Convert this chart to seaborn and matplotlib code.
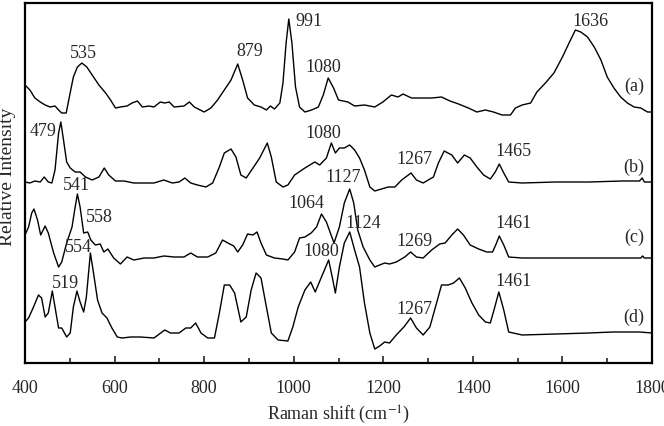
import numpy as np
import pandas as pd
import matplotlib
matplotlib.use('Agg')
import matplotlib.pyplot as plt
import seaborn as sns
from matplotlib.ticker import MultipleLocator

sns.set_style('ticks')
plt.rcParams['font.family'] = ['Liberation Serif', 'DejaVu Serif']
plt.rcParams['mathtext.fontset'] = 'stix'

# spectrum (a)
shift_a = [400, 411, 422, 434, 445, 456, 467, 475, 482, 492, 499, 508, 517, 527, 538, 550, 565, 580, 591, 602,
           613, 628, 639, 651, 662, 677, 688, 702, 712, 722, 733, 755, 767, 778, 800, 815, 830, 845, 860, 875,
           886, 897, 912, 927, 939, 948, 957, 969, 976, 983, 989, 996, 1004, 1013, 1025, 1040, 1055, 1066, 1077, 1089,
           1100, 1121, 1136, 1158, 1181, 1199, 1218, 1233, 1244, 1263, 1285, 1308, 1330, 1349, 1368, 1390, 1409, 1428, 1446, 1465,
           1484, 1495, 1510, 1529, 1543, 1562, 1581, 1600, 1618, 1629, 1641, 1656, 1671, 1686, 1700, 1715, 1730, 1745, 1760, 1775,
           1790, 1800]
int_a = [28, 23, 15, 11, 8, 6, 7, 3, 0, 0, 16, 36, 46, 50, 46, 38, 28, 20, 13, 5,
         6, 7, 10, 12, 6, 7, 6, 11, 10, 11, 6, 7, 11, 6, 1, 5, 13, 23, 33, 49,
         33, 15, 8, 6, 3, 7, 4, 10, 30, 70, 94, 70, 26, 6, 1, 3, 6, 18, 35, 25,
         13, 11, 7, 8, 6, 11, 18, 16, 19, 15, 15, 15, 16, 12, 9, 5, 1, 3, 1, -2,
         -2, 5, 8, 10, 21, 30, 40, 56, 73, 83, 81, 76, 66, 53, 36, 25, 16, 10, 6, 5,
         1, 1]

# spectrum (b)
shift_b = [400, 411, 422, 434, 443, 452, 460, 467, 475, 480, 486, 493, 501, 512, 523, 535, 550, 565, 577, 587,
           602, 621, 643, 666, 688, 710, 729, 744, 757, 770, 785, 804, 819, 834, 845, 860, 871, 882, 894, 909,
           924, 941, 950, 961, 976, 987, 1002, 1025, 1047, 1058, 1073, 1084, 1093, 1102, 1113, 1125, 1136, 1147, 1158, 1170,
           1181, 1196, 1211, 1226, 1241, 1262, 1274, 1289, 1312, 1323, 1336, 1353, 1366, 1381, 1394, 1409, 1424, 1439, 1450, 1459,
           1469, 1480, 1510, 1585, 1659, 1734, 1772, 1778, 1783, 1800]
int_b = [3, 2, 4, 3, 8, 3, 2, 15, 52, 63, 45, 23, 17, 13, 13, 8, 5, 8, 17, 10,
         4, 4, 2, 2, 2, 5, 2, 3, 7, 2, 0, -2, 2, 18, 32, 36, 28, 10, 7, 17,
         27, 42, 28, 3, -2, 0, 10, 17, 23, 20, 27, 42, 32, 37, 37, 40, 35, 27, 15, -2,
         -6, -4, -2, -2, 5, 12, 5, 2, 8, 22, 34, 30, 22, 30, 27, 18, 10, 6, 13, 21,
         12, 3, 2, 3, 3, 4, 4, 7, 3, 3]

# spectrum (c)
shift_c = [400, 408, 415, 420, 428, 435, 445, 452, 464, 475, 482, 493, 505, 512, 517, 523, 531, 540, 547, 557,
           568, 576, 585, 598, 613, 628, 643, 666, 688, 710, 733, 755, 770, 785, 808, 826, 841, 853, 866, 875,
           886, 897, 909, 918, 927, 939, 957, 976, 987, 1002, 1013, 1025, 1039, 1051, 1062, 1073, 1081, 1090, 1102, 1113,
           1125, 1134, 1143, 1155, 1170, 1181, 1192, 1203, 1214, 1229, 1248, 1261, 1274, 1289, 1308, 1326, 1338, 1353, 1366, 1379,
           1394, 1413, 1431, 1444, 1451, 1459, 1469, 1480, 1510, 1585, 1659, 1734, 1775, 1779, 1783, 1800]
int_c = [25, 33, 47, 51, 40, 25, 34, 27, 7, -7, -2, 17, 33, 53, 66, 53, 27, 28, 20, 15,
         16, 8, 11, 2, -4, 3, 0, 2, 2, 4, 3, 3, 7, 3, 3, 7, 20, 17, 14, 8,
         15, 26, 25, 28, 17, 5, 2, 1, 0, 8, 22, 23, 27, 33, 46, 38, 28, 17, 33, 57,
         71, 57, 30, 13, 0, -7, -5, -3, -4, -2, 3, 8, 3, 2, 10, 16, 17, 25, 31, 25,
         15, 11, 8, 8, 15, 24, 15, 3, 2, 2, 2, 2, 2, 4, 2, 2]

# spectrum (d)
shift_d = [400, 408, 419, 430, 437, 445, 452, 461, 467, 475, 482, 493, 501, 508, 516, 523, 531, 537, 546, 553,
           562, 572, 583, 594, 606, 617, 636, 658, 688, 703, 712, 725, 744, 759, 770, 781, 793, 808, 823, 834,
           845, 857, 868, 882, 894, 905, 916, 927, 939, 950, 965, 987, 998, 1010, 1025, 1038, 1048, 1062, 1078, 1086,
           1093, 1102, 1113, 1125, 1136, 1147, 1158, 1170, 1181, 1192, 1203, 1214, 1229, 1246, 1261, 1274, 1289, 1304, 1319, 1330,
           1345, 1357, 1370, 1383, 1398, 1413, 1428, 1439, 1449, 1458, 1469, 1480, 1510, 1585, 1659, 1712, 1772, 1800]
int_d = [19, 23, 34, 46, 43, 24, 28, 50, 34, 13, 13, 4, 8, 34, 50, 39, 29, 44, 88, 68,
         41, 28, 23, 13, 4, 3, 4, 4, 3, 8, 11, 8, 8, 13, 13, 18, 8, 3, 3, 28,
         56, 56, 48, 19, 24, 51, 68, 63, 34, 8, 1, 0, 14, 34, 51, 59, 49, 64, 81, 64,
         48, 74, 98, 109, 91, 74, 38, 8, -8, -5, -1, -2, 6, 14, 23, 13, 6, 14, 38, 56,
         56, 58, 63, 53, 38, 26, 19, 18, 34, 49, 31, 9, 6, 7, 8, 9, 9, 8]

names = ['(a)', '(b)', '(c)', '(d)']
shifts = [shift_a, shift_b, shift_c, shift_d]
intensities = [int_a, int_b, int_c, int_d]
offsets = [250, 178, 103, 22]

# peak labels: (text, x, y) in stacked coordinates
peak_labels = [
    ('535', 531, 310), ('879', 901, 312), ('991', 1034, 341), ('1080', 1066, 296), ('1636', 1663, 341),
    ('479', 441, 231), ('1080', 1066, 230), ('1267', 1270, 203), ('1465', 1491, 212),
    ('541', 514, 178), ('558', 567, 145), ('1064', 1028, 160), ('1127', 1110, 186), ('1269', 1269, 121), ('1461', 1491, 140),
    ('554', 520, 115), ('519', 490, 80), ('1080', 1062, 111), ('1124', 1155, 140), ('1267', 1269, 54), ('1461', 1491, 81),
]
trace_labels_y = [277, 196, 126, 46]

fig = plt.figure(figsize=(6.64, 4.26), dpi=100)
ax = fig.add_axes([25 / 664, 63 / 426, 627 / 664, 360 / 426])

for name, x, y, off in zip(names, shifts, intensities, offsets):
    df = pd.DataFrame({'shift': x, 'intensity': np.array(y) + off})
    sns.lineplot(data=df, x='shift', y='intensity', ax=ax, color='black',
                 linewidth=1.0, estimator=None, sort=False)

for txt, x, y in peak_labels:
    ax.text(x, y, txt, ha='center', va='center', fontsize=13)
for name, y in zip(names, trace_labels_y):
    ax.text(1760, y, name, ha='center', va='center', fontsize=13)

ax.set_xlim(400, 1800)
ax.set_ylim(0, 360)
ax.set_yticks([])
ax.xaxis.set_major_locator(MultipleLocator(200))
ax.xaxis.set_minor_locator(MultipleLocator(100))
ax.tick_params(axis='x', which='major', direction='in', length=5, width=1.2,
               labelsize=13, pad=12, top=False)
ax.tick_params(axis='x', which='minor', direction='in', length=3.5, width=1.2, top=False)
for s in ax.spines.values():
    s.set_linewidth(1.6)
    s.set_color('black')

ax.set_xlabel('Raman shift (cm$^{-1}$)', fontsize=13, labelpad=5)
ax.set_ylabel('Relative Intensity', fontsize=14)
ax.yaxis.set_label_coords(-0.015, 0.517)

fig.savefig('out.png', dpi=100)
